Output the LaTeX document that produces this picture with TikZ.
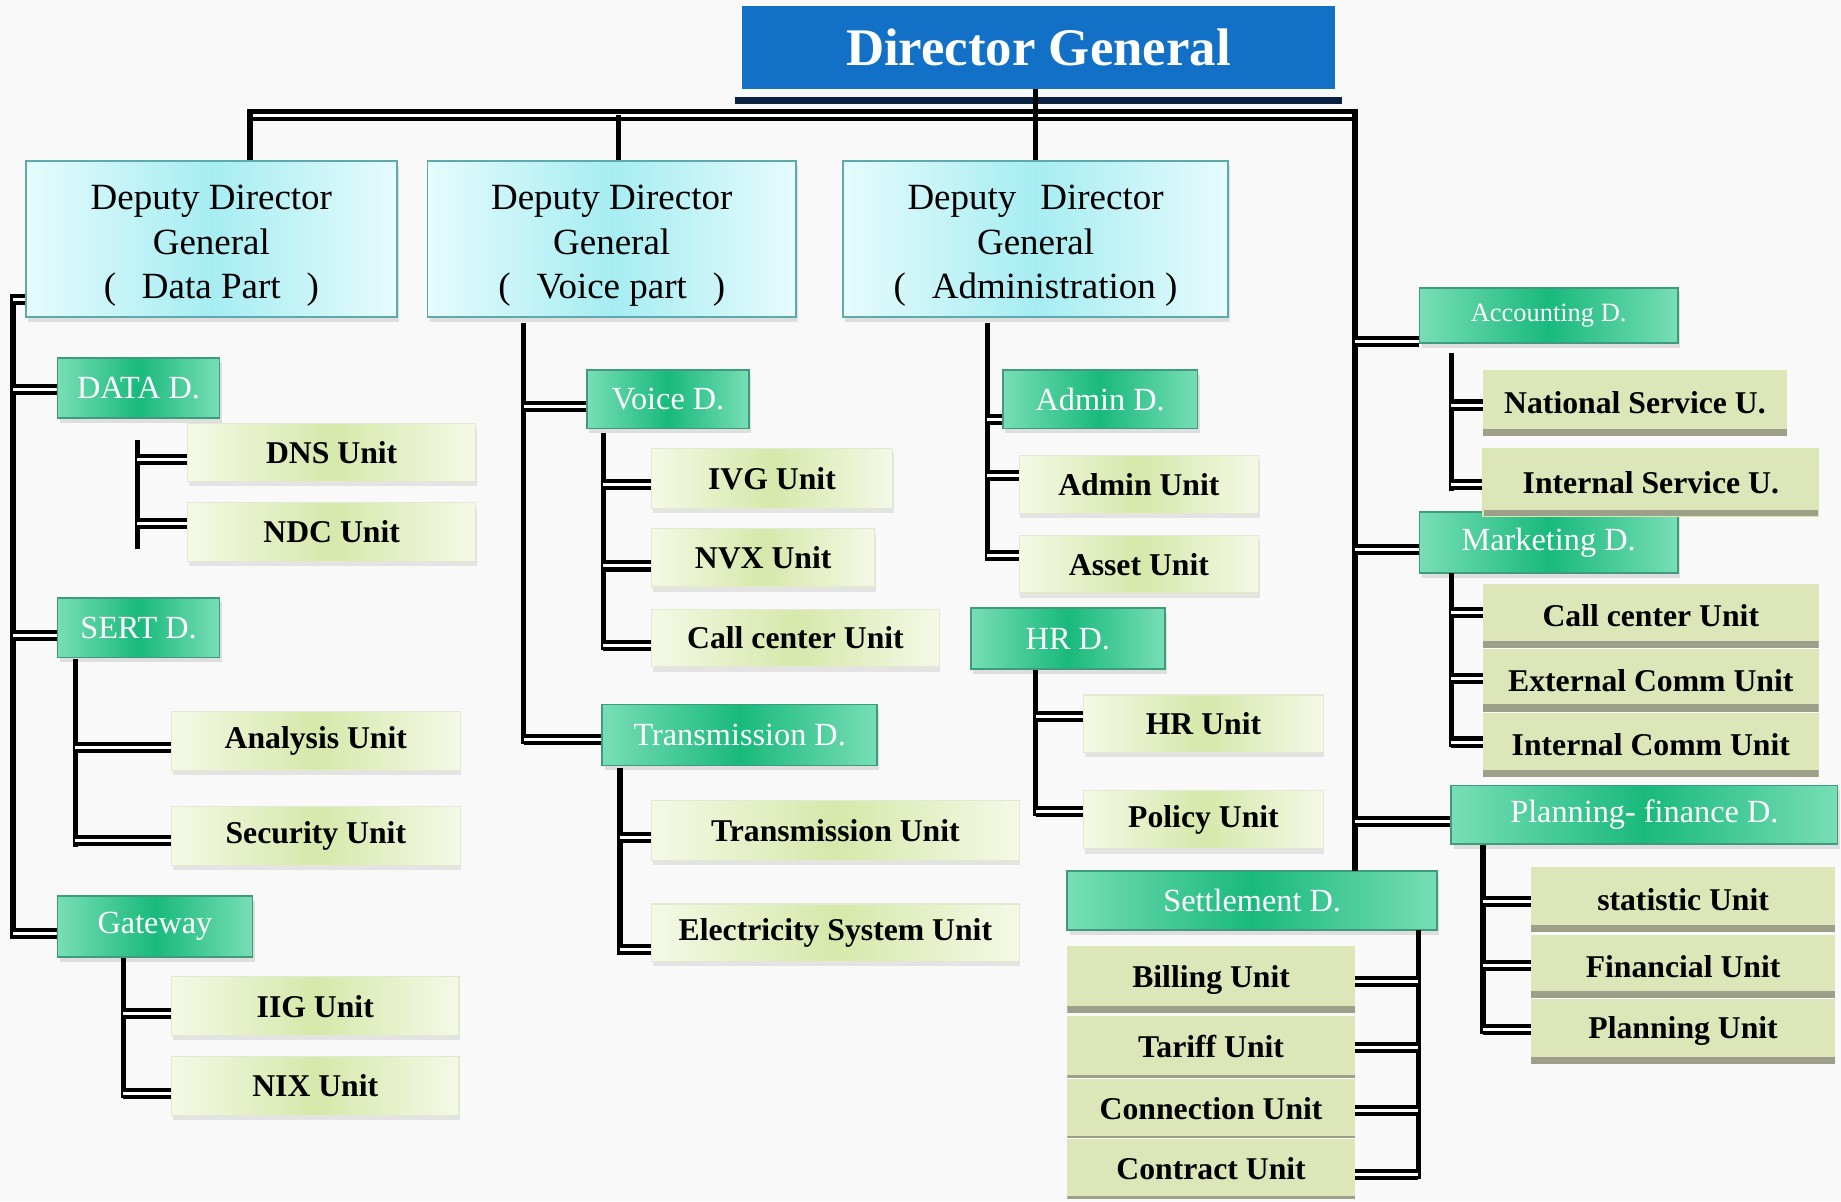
\documentclass[tikz,border=0pt]{standalone}
\usepackage{fontspec}
\setmainfont{Liberation Serif}
\usetikzlibrary{shadows}
\definecolor{bgc}{HTML}{F9F9F9}
\definecolor{titleblue}{HTML}{1270C6}
\definecolor{navy}{HTML}{0B2144}
\definecolor{ddgedge}{HTML}{E6FBFC}
\definecolor{ddgmid}{HTML}{A6EDF2}
\definecolor{ddgline}{HTML}{5EA9AE}
\definecolor{gredge}{HTML}{78DEB6}
\definecolor{grmid}{HTML}{19B97C}
\definecolor{grline}{HTML}{3E9C7C}
\definecolor{uedge}{HTML}{F4F9E6}
\definecolor{umid}{HTML}{D6E8AA}
\definecolor{uline}{HTML}{E3E9D0}
\definecolor{flatfill}{HTML}{DCE6B8}
\definecolor{flatstripe}{HTML}{9D9F88}
\newcommand{\linkW}[3]{\draw[stub] ([yshift=#3]#1.west) -- ([yshift=#3]#1.west -| #2);}
\newcommand{\linkE}[3]{\draw[stub] ([yshift=#3]#1.east) -- ([yshift=#3]#1.east -| #2);}
\newcommand{\ddgstrut}{\rule{0pt}{33pt}}
\tikzset{
  base/.style={inner sep=0pt, align=center},
  titlebox/.style={base, fill=titleblue, text=white, font=\fontsize{45}{50}\selectfont\bfseries},
  ddgbox/.style={base, draw=ddgline, line width=1.5pt, left color=ddgedge, right color=ddgedge, middle color=ddgmid,
    drop shadow={shadow xshift=2pt, shadow yshift=-4pt, opacity=0.22}, font=\fontsize{31.5}{38}\selectfont},
  dbox/.style={base, draw=grline, line width=1.5pt, left color=gredge, right color=gredge, middle color=grmid, text=white,
    drop shadow={shadow xshift=2pt, shadow yshift=-4pt, opacity=0.22}, font=\fontsize{27.5}{30}\selectfont},
  gunit/.style={base, draw=uline, line width=1pt, left color=uedge, right color=uedge, middle color=umid,
    drop shadow={shadow xshift=1pt, shadow yshift=-4pt, opacity=0.18}, font=\fontsize{27}{30}\selectfont\bfseries},
  funit/.style={base, fill=flatfill, font=\fontsize{27}{30}\selectfont\bfseries,
    path picture={\fill[flatstripe] (path picture bounding box.south west) rectangle ([yshift=#1]path picture bounding box.south east);}},
  funit/.default=6pt,
  spine/.style={line width=4.5pt},
  stub/.style={line width=3.5pt, double=white, double distance=2.5pt},
}
\begin{document}
\begin{tikzpicture}[x=1pt, y=-1pt]
\useasboundingbox (0,0) rectangle (1568,1023);
\fill[bgc] (0,0) rectangle (1568,1023);

% ---- title ----
\node[titlebox, minimum width=505pt, minimum height=71pt] (dg) at (884.5,40.5) {Director General};
\node[fill=navy, inner sep=0pt, minimum width=517pt, minimum height=6pt] (dgbar) at (884.5,86) {};

% ---- deputy director generals ----
\node[ddgbox, minimum width=316pt, minimum height=133pt] (ddgData) at (180,203.5)
  {\ddgstrut Deputy Director\\General\\(\hspace{0.7em}Data Part\hspace{0.7em})};
\node[ddgbox, minimum width=314pt, minimum height=133pt] (ddgVoice) at (521,203.5)
  {\ddgstrut Deputy Director\\General\\(\hspace{0.7em}Voice part\hspace{0.7em})};
\node[ddgbox, minimum width=328pt, minimum height=133pt] (ddgAdmin) at (882,203.5)
  {\ddgstrut Deputy\hspace{0.4em} Director\\General\\(\hspace{0.7em}Administration )};

% ---- departments ----
\node[dbox, minimum width=138pt, minimum height=51pt] (dataD) at (118,330.5) {DATA D.};
\node[dbox, minimum width=138pt, minimum height=51pt] (sertD) at (118,534.5) {SERT D.};
\node[dbox, minimum width=166pt, minimum height=52pt] (gateway) at (132,789) {Gateway};
\node[dbox, minimum width=138pt, minimum height=50pt] (voiceD) at (569,340) {Voice D.};
\node[dbox, minimum width=234pt, minimum height=52pt] (transD) at (630,626) {Transmission D.};
\node[dbox, minimum width=166pt, minimum height=50pt] (adminD) at (937,340) {Admin D.};
\node[dbox, minimum width=165pt, minimum height=52pt] (hrD) at (909.5,544) {HR D.};
\node[dbox, minimum width=315pt, minimum height=50pt] (settleD) at (1066.5,767) {Settlement D.};
\node[dbox, minimum width=220pt, minimum height=47pt, font=\fontsize{22.5}{26}\selectfont] (accD) at (1319,268.5) {Accounting D.};
\node[dbox, minimum width=220pt, minimum height=52pt] (mktD) at (1319,462) {Marketing D.};
\node[dbox, minimum width=329pt, minimum height=50pt] (planD) at (1400.5,694) {Planning- finance D.};

% ---- gradient units ----
\node[gunit, minimum width=245pt, minimum height=49pt] (dns) at (282.5,385.5) {DNS Unit};
\node[gunit, minimum width=245pt, minimum height=50pt] (ndc) at (282.5,453) {NDC Unit};
\node[gunit, minimum width=246pt, minimum height=50pt] (analysis) at (269,631) {Analysis Unit};
\node[gunit, minimum width=246pt, minimum height=50pt] (security) at (269,712) {Security Unit};
\node[gunit, minimum width=245pt, minimum height=50pt] (iig) at (268.5,857) {IIG Unit};
\node[gunit, minimum width=245pt, minimum height=50pt] (nix) at (268.5,925) {NIX Unit};
\node[gunit, minimum width=205pt, minimum height=51pt] (ivg) at (657.5,407.5) {IVG Unit};
\node[gunit, minimum width=190pt, minimum height=50pt] (nvx) at (650,475) {NVX Unit};
\node[gunit, minimum width=245pt, minimum height=49pt] (callV) at (677.5,543.5) {Call center Unit};
\node[gunit, minimum width=313pt, minimum height=51pt] (transU) at (711.5,707.5) {Transmission Unit};
\node[gunit, minimum width=313pt, minimum height=49pt] (elecU) at (711.5,794.5) {Electricity System Unit};
\node[gunit, minimum width=204pt, minimum height=49pt] (adminU) at (970,412.5) {Admin Unit};
\node[gunit, minimum width=204pt, minimum height=49pt] (assetU) at (970,480.5) {Asset Unit};
\node[gunit, minimum width=204pt, minimum height=49pt] (hrU) at (1025,616.5) {HR Unit};
\node[gunit, minimum width=204pt, minimum height=50pt] (policyU) at (1025,698) {Policy Unit};

% ---- flat units ----
\node[funit, minimum width=245pt, minimum height=57pt] (billing) at (1031.5,834.5) {Billing Unit};
\node[funit=2.5pt, minimum width=245pt, minimum height=53pt] (tariff) at (1031.5,891.5) {Tariff Unit};
\node[funit=1.5pt, minimum width=245pt, minimum height=50pt] (connection) at (1031.5,944) {Connection Unit};
\node[funit=2.5pt, minimum width=245pt, minimum height=51pt] (contract) at (1031.5,995.5) {Contract Unit};
\node[funit, minimum width=259pt, minimum height=56pt] (natU) at (1392.5,343) {National Service U.};
\node[funit, draw=umid, line width=1pt, minimum width=286pt, minimum height=58pt] (intSU) at (1406,411) {Internal Service U.};
\node[funit, minimum width=286pt, minimum height=55pt] (callM) at (1406,524.5) {Call center Unit};
\node[funit, minimum width=286pt, minimum height=53pt] (extC) at (1406,579.5) {External Comm Unit};
\node[funit, minimum width=286pt, minimum height=55pt] (intC) at (1406,634.5) {Internal Comm Unit};
\node[funit, minimum width=259pt, minimum height=56pt] (stat) at (1433.5,766) {statistic Unit};
\node[funit, minimum width=259pt, minimum height=54pt] (fin) at (1433.5,823) {Financial Unit};
\node[funit, minimum width=259pt, minimum height=55pt] (planU) at (1433.5,878.5) {Planning Unit};

% ---- spine coordinates ----
\coordinate (busL) at (213,98);
\coordinate (busV) at (527,98);
\coordinate (busR) at (1156,98);
\coordinate (rT) at (1154,93);   \coordinate (rB) at (1154,742);
\coordinate (lT) at (11,250);    \coordinate (lB) at (11,800);
\coordinate (daT) at (117,375);  \coordinate (daB) at (117,468);
\coordinate (seT) at (64,561);   \coordinate (seB) at (64,721);
\coordinate (gwT) at (105,816);  \coordinate (gwB) at (105,935);
\coordinate (vmT) at (446,275);  \coordinate (vmB) at (446,634);
\coordinate (vdT) at (514,369);  \coordinate (vdB) at (514,554);
\coordinate (trT) at (528,654);  \coordinate (trB) at (528,813);
\coordinate (amT) at (841,275);  \coordinate (amB) at (841,478);
\coordinate (hrT) at (882,571);  \coordinate (hrB) at (882,695);
\coordinate (stT) at (1208,792); \coordinate (stB) at (1208,1004);
\coordinate (acT) at (1236,301); \coordinate (acB) at (1236,418);
\coordinate (mkT) at (1236,488); \coordinate (mkB) at (1236,636);
\coordinate (plT) at (1263,720); \coordinate (plB) at (1263,881);

% ---- top bus ----
\draw[stub] (busL) -- (busR);
\draw[spine] ([yshift=5pt]busL) -- (ddgData.north -| busL);
\draw[spine] (busV) -- (ddgVoice.north -| busV);
\draw[spine] (rT) -- (rB);
\draw[spine] (ddgAdmin.north |- dg.south) -- (ddgAdmin.north);

% ---- spines ----
\draw[spine] (lT) -- (lB);
\draw[spine] (daT) -- (daB);
\draw[spine] (seT) -- (seB);
\draw[spine] (gwT) -- (gwB);
\draw[spine] (vmT) -- (vmB);
\draw[spine] (vdT) -- (vdB);
\draw[spine] (trT) -- (trB);
\draw[spine] (amT) -- (amB);
\draw[spine] (hrT) -- (hrB);
\draw[spine] (stT) -- (stB);
\draw[spine] (acT) -- (acB);
\draw[spine] (mkT) -- (mkB);
\draw[spine] (plT) -- (plB);

% ---- stubs ----
\linkW{ddgData}{lT}{-51.5pt}
\linkW{dataD}{lT}{-1.5pt}
\linkW{sertD}{lT}{-6.5pt}
\linkW{gateway}{lT}{-6pt}
\linkW{dns}{daT}{-5.5pt}
\linkW{ndc}{daT}{7pt}
\linkW{analysis}{seT}{-6pt}
\linkW{security}{seT}{-4pt}
\linkW{iig}{gwT}{-6pt}
\linkW{nix}{gwT}{-6pt}
\linkW{voiceD}{vmT}{-6pt}
\linkW{transD}{vmT}{-4pt}
\linkW{ivg}{vdT}{-5.5pt}
\linkW{nvx}{vdT}{-7pt}
\linkW{callV}{vdT}{-6.5pt}
\linkW{transU}{trT}{-5.5pt}
\linkW{elecU}{trT}{-14.5pt}
\linkW{adminD}{amT}{-17pt}
\linkW{adminU}{amT}{7.5pt}
\linkW{assetU}{amT}{7.5pt}
\linkW{hrU}{hrT}{6.5pt}
\linkW{policyU}{hrT}{7pt}
\linkW{accD}{rT}{-22.5pt}
\linkW{mktD}{rT}{-6pt}
\linkW{planD}{rT}{-6pt}
\linkE{billing}{stT}{-1.5pt}
\linkE{tariff}{stT}{-0.5pt}
\linkE{connection}{stT}{-2pt}
\linkE{contract}{stT}{-4.5pt}
\linkW{natU}{acT}{-2pt}
\linkW{intSU}{acT}{-2pt}
\linkW{callM}{mkT}{2.5pt}
\linkW{extC}{mkT}{1.5pt}
\linkW{intC}{mkT}{2.5pt}
\linkW{stat}{plT}{-2pt}
\linkW{fin}{plT}{1pt}
\linkW{planU}{plT}{1.5pt}
\end{tikzpicture}
\end{document}
